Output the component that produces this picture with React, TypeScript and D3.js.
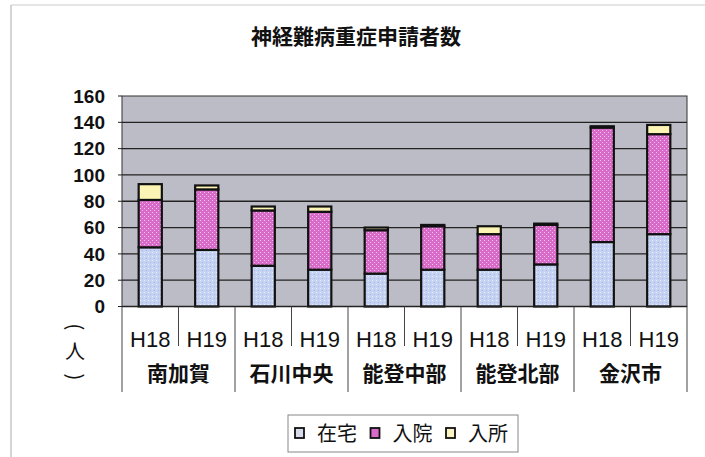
import React from "react";
import * as d3 from "d3";

const title = "神経難病重症申請者数";
const regions = ["南加賀", "石川中央", "能登中部", "能登北部", "金沢市"];
const years = ["H18", "H19"];
const seriesNames = ["在宅", "入院", "入所"];
// order: region x year
const zaitaku = [45, 43, 31, 28, 25, 28, 28, 32, 49, 55];
const nyuin = [36, 46, 42, 44, 33, 33, 27, 30, 87, 76];
const nyusho = [12, 3, 3, 4, 2, 1, 6, 1, 1, 7];
const yTicks = [0, 20, 40, 60, 80, 100, 120, 140, 160];

const W = 705, H = 457;
const left = 122, right = 687, top = 96, bottom = 306.5;

export default function App() {
  const cats = regions.flatMap((r) => years.map((y) => `${r}-${y}`));
  const x = d3.scaleBand().domain(cats).range([left, right]).paddingInner(0).paddingOuter(0);
  const y = d3.scaleLinear().domain([0, 160]).range([bottom, top]);
  const rows = cats.map((c, i) => ({ c, 在宅: zaitaku[i], 入院: nyuin[i], 入所: nyusho[i] }));
  const stack = d3.stack<any>().keys(seriesNames)(rows);
  const fills = ["url(#pBlue)", "url(#pPink)", "#fbf4b4"];
  const bw = x.bandwidth() * 0.41;
  const font = "'Liberation Sans', Arial, sans-serif";
  const cjk = "'Noto Sans CJK JP', sans-serif";
  return (
    <svg width={W} height={H} style={{ position: "absolute", left: 0, top: 0, background: "#fff" }}>
      <defs>
        <pattern id="pBlue" width="4" height="4" patternUnits="userSpaceOnUse">
          <rect width="4" height="4" fill="#c6d2f2" />
          <rect x="0" y="0" width="1" height="1" fill="#e8eefc" />
          <rect x="2" y="2" width="1" height="1" fill="#a8b8e8" />
        </pattern>
        <pattern id="pPink" width="4" height="4" patternUnits="userSpaceOnUse">
          <rect width="4" height="4" fill="#d86ac8" />
          <rect x="0" y="0" width="1" height="1" fill="#f4c8ee" />
          <rect x="2" y="2" width="1" height="1" fill="#f0b8e8" />
        </pattern>
      </defs>
      <line x1={11} y1={5} x2={11} y2={H} stroke="#aaa" />
      <line x1={11} y1={5} x2={W} y2={5} stroke="#ccc" />
      <text x={356} y={44} textAnchor="middle" fontFamily={cjk} fontWeight="bold" fontSize={21} fill="#111">
        {title}
      </text>
      <rect x={left} y={top} width={right - left} height={bottom - top} fill="#bcbcc6" stroke="#333" strokeWidth={1} />
      {yTicks.map((t) => (
        <g key={t}>
          {t > 0 && t < 160 && (
            <line x1={left} x2={right} y1={y(t)} y2={y(t)} stroke="#222" strokeWidth={1.3} />
          )}
          <line x1={left - 4} x2={left} y1={y(t)} y2={y(t)} stroke="#222" />
          <text x={105} y={y(t)} dy="0.36em" textAnchor="end" fontFamily={font} fontWeight="bold" fontSize={19} fill="#111">
            {t}
          </text>
        </g>
      ))}
      {stack.map((s, si) =>
        s.map((d, i) => (
          <rect
            key={`${si}-${i}`}
            x={(x(cats[i]) as number) + (x.bandwidth() - bw) / 2}
            y={y(d[1])}
            width={bw}
            height={y(d[0]) - y(d[1])}
            fill={fills[si]}
            stroke="#111"
            strokeWidth={2.2}
          />
        ))
      )}
      <line x1={left} x2={right} y1={bottom} y2={bottom} stroke="#222" strokeWidth={1.3} />
      {cats.map((c, i) => {
        const x0 = x(c) as number;
        const groupStart = i % 2 === 0;
        return (
          <g key={c}>
            <line x1={x0} x2={x0} y1={bottom} y2={groupStart ? 392 : 346} stroke="#444" strokeWidth={1} />
            <text x={x0 + x.bandwidth() / 2} y={339} dy="0.36em" textAnchor="middle" fontFamily={font} fontSize={22} fill="#111">
              {years[i % 2]}
            </text>
          </g>
        );
      })}
      <line x1={right} x2={right} y1={bottom} y2={392} stroke="#444" strokeWidth={1} />
      {regions.map((r, i) => (
        <text key={r} x={(x(`${r}-H18`) as number) + x.bandwidth()} y={373} dy="0.36em" textAnchor="middle" fontFamily={cjk} fontWeight="bold" fontSize={21} fill="#111">
          {r}
        </text>
      ))}
      <g fontFamily={cjk} fontSize={20} fill="#111" textAnchor="middle">
        <text x={75} y={327} dy="0.36em" transform="rotate(90 75 327)">(</text>
        <text x={75} y={352} dy="0.36em">人</text>
        <text x={75} y={377} dy="0.36em" transform="rotate(90 75 377)">)</text>
      </g>
      <rect x={288} y={415} width={230} height={37} fill="#fff" stroke="#888" />
      {seriesNames.map((n, i) => {
        const lx = 295 + i * 75.5;
        return (
          <g key={n}>
            <rect x={lx} y={428} width={9} height={10} fill={["#d8dcea", "#d86ac8", "#fbf4c4"][i]} stroke="#111" strokeWidth={1.8} />
            <text x={lx + 22} y={434} dy="0.36em" fontFamily={cjk} fontSize={20} fill="#111">
              {n}
            </text>
          </g>
        );
      })}
    </svg>
  );
}
